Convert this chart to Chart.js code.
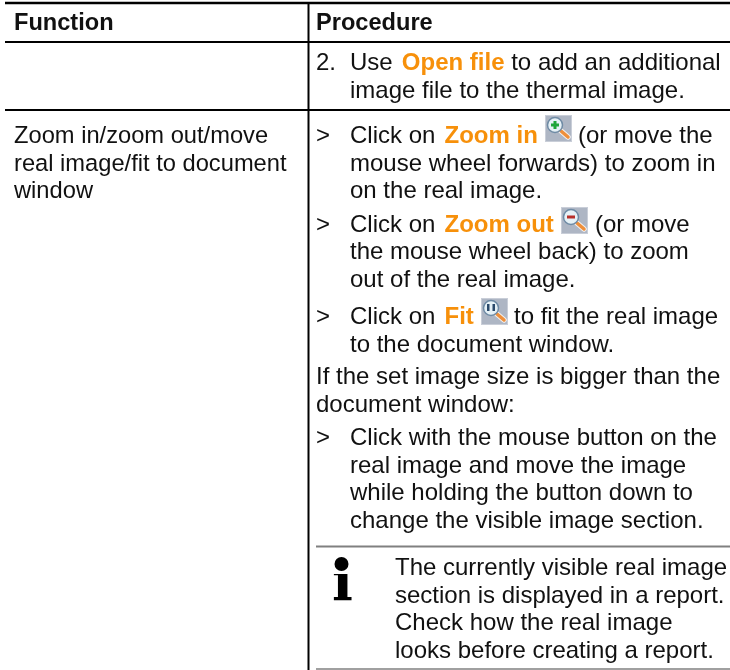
<!DOCTYPE html>
<html>
<head>
<meta charset="utf-8">
<title>Function / Procedure</title>
<script src="https://cdn.jsdelivr.net/npm/chart.js@4"></script>
<style>
  html, body { margin: 0; padding: 0; background: #fff; }
  canvas { display: block; }
</style>
</head>
<body>
<canvas id="tableChart" width="730" height="670"></canvas>
<script>
const headers = ['Function', 'Procedure'];
const functionLines = ['Zoom in/zoom out/move', 'real image/fit to document', 'window'];
const procedureLines = [
  '2.', 'Use Open file to add an additional', 'image file to the thermal image.',
  '>', 'Click on Zoom in', '(or move the', 'mouse wheel forwards) to zoom in', 'on the real image.',
  '>', 'Click on Zoom out', '(or move', 'the mouse wheel back) to zoom', 'out of the real image.',
  '>', 'Click on Fit', 'to fit the real image', 'to the document window.',
  'If the set image size is bigger than the', 'document window:',
  '>', 'Click with the mouse button on the', 'real image and move the image', 'while holding the button down to', 'change the visible image section.'
];
const noteLines = ['The currently visible real image', 'section is displayed in a report.', 'Check how the real image', 'looks before creating a report.'];
const highlights = ['Open file', 'Zoom in', 'Zoom out', 'Fit'];

// layout, in page pixels
const FONT = '"Liberation Sans", Arial, sans-serif';
const SIZE = 24;
const FUNC_SIZE = 23.7;
const HEAD_SIZE = 23.6;
const MARK_SIZE = 24;
const MARK_GAP = 2.5;
const X_FUNC = 14, X_PROC = 316, X_TEXT = 350, X_NOTE = 395;
const rules = [
  { x: [5, 730], y: [3, 3], w: 2.5, c: '#000' },
  { x: [5, 730], y: [42, 42], w: 2, c: '#000' },
  { x: [5, 730], y: [110, 110], w: 2, c: '#000' },
  { x: [308.5, 308.5], y: [3, 670], w: 2, c: '#000' },
  { x: [316, 730], y: [546.5, 546.5], w: 2, c: '#808080' },
  { x: [316, 730], y: [669, 669], w: 1.5, c: '#808080' }
];
// [x, baseline] for every entry of procedureLines
const procPos = [
  [X_PROC, 70], [X_TEXT, 70], [X_TEXT, 98],
  [X_PROC, 143], [X_TEXT, 143], [578, 143], [X_TEXT, 171], [X_TEXT, 198],
  [X_PROC, 232], [X_TEXT, 232], [595, 232], [X_TEXT, 259], [X_TEXT, 287],
  [X_PROC, 324], [X_TEXT, 324], [514, 324], [X_TEXT, 352],
  [X_PROC, 384], [X_PROC, 412],
  [X_PROC, 445], [X_TEXT, 445], [X_TEXT, 473], [X_TEXT, 500], [X_TEXT, 528]
];
const notePos = [575, 603, 630, 658];
const funcPos = [143, 171, 198];
// icon buttons, top left corner
const icons = [
  { kind: 'plus', x: 545, y: 115 },
  { kind: 'minus', x: 561, y: 207 },
  { kind: 'fit', x: 481, y: 298 }
];

function drawIcon(ctx, ic, sx, sy) {
  const x = sx(ic.x), y = sy(ic.y);
  ctx.save();
  ctx.fillStyle = '#aeb6c4';
  ctx.fillRect(x, y, 27, 27);
  ctx.strokeStyle = '#c9ced8';
  ctx.strokeRect(x + 0.5, y + 0.5, 26, 26);
  // handle
  ctx.lineCap = 'round';
  ctx.strokeStyle = '#f2f2f2';
  ctx.lineWidth = 5.5;
  ctx.beginPath();
  ctx.moveTo(x + 16, y + 16);
  ctx.lineTo(x + 23, y + 22);
  ctx.stroke();
  ctx.strokeStyle = '#ee8f3a';
  ctx.lineWidth = 3.5;
  ctx.beginPath();
  ctx.moveTo(x + 16, y + 16);
  ctx.lineTo(x + 23, y + 22);
  ctx.stroke();
  // lens
  ctx.fillStyle = '#e6f1f6';
  ctx.strokeStyle = '#6f8ba5';
  ctx.lineWidth = 1.5;
  ctx.beginPath();
  ctx.arc(x + 10, y + 10, 7.5, 0, Math.PI * 2);
  ctx.fill();
  ctx.stroke();
  if (ic.kind === 'plus') {
    ctx.fillStyle = '#1fa53a';
    ctx.fillRect(x + 6, y + 8.5, 8, 3);
    ctx.fillRect(x + 8.5, y + 6, 3, 8);
  } else if (ic.kind === 'minus') {
    ctx.fillStyle = '#b8302a';
    ctx.fillRect(x + 6, y + 8.5, 8, 3);
  } else {
    ctx.fillStyle = '#2b4a6b';
    ctx.fillRect(x + 6, y + 6, 2.5, 7);
    ctx.fillRect(x + 11.5, y + 6, 2.5, 7);
  }
  ctx.restore();
}

// writes one line of the procedure, with the highlighted words bold and orange
function drawLine(ctx, text, x, y) {
  const hit = highlights.find(h => text.includes(h));
  const parts = hit ? text.split(hit) : [text];
  let cx = x;
  parts.forEach((part, i) => {
    ctx.font = SIZE + 'px ' + FONT;
    ctx.fillStyle = '#111';
    ctx.fillText(part, cx, y);
    cx += ctx.measureText(part).width;
    if (hit && i === 0) {
      cx += MARK_GAP;
      ctx.font = 'bold ' + MARK_SIZE + 'px ' + FONT;
      ctx.fillStyle = '#f7900a';
      ctx.fillText(hit, cx, y);
      cx += ctx.measureText(hit).width;
    }
  });
}

const tableText = {
  id: 'tableText',
  afterDatasetsDraw(chart) {
    const ctx = chart.ctx;
    const sx = v => chart.scales.x.getPixelForValue(v);
    const sy = v => chart.scales.y.getPixelForValue(v);
    ctx.save();
    ctx.textBaseline = 'alphabetic';
    ctx.textAlign = 'left';

    ctx.fillStyle = '#111';
    ctx.font = 'bold ' + HEAD_SIZE + 'px ' + FONT;
    ctx.fillText(headers[0], sx(X_FUNC), sy(30));
    ctx.fillText(headers[1], sx(X_PROC), sy(30));

    ctx.font = FUNC_SIZE + 'px ' + FONT;
    functionLines.forEach((t, i) => ctx.fillText(t, sx(X_FUNC), sy(funcPos[i])));
    procedureLines.forEach((t, i) => drawLine(ctx, t, sx(procPos[i][0]), sy(procPos[i][1])));
    noteLines.forEach((t, i) => drawLine(ctx, t, sx(X_NOTE), sy(notePos[i])));

    icons.forEach(ic => drawIcon(ctx, ic, sx, sy));

    // note symbol, the reference has a rounder and larger dot than the font
    ctx.fillStyle = '#000';
    ctx.font = 'bold 55px "DejaVu Serif", serif';
    ctx.fillText('i', sx(332), sy(600));
    ctx.fillStyle = '#fff';
    ctx.fillRect(sx(332), sy(571), 20, 3);
    ctx.fillStyle = '#000';
    ctx.beginPath();
    ctx.arc(sx(341.5), sy(564), 7, 0, Math.PI * 2);
    ctx.fill();
    ctx.restore();
  }
};

new Chart(document.getElementById('tableChart'), {
  type: 'scatter',
  data: {
    datasets: rules.map(r => ({
      data: r.x.map((x, i) => ({ x: x, y: r.y[i] })),
      showLine: true,
      pointRadius: 0,
      borderColor: r.c,
      borderWidth: r.w
    }))
  },
  options: {
    responsive: false,
    animation: false,
    layout: { padding: 0 },
    plugins: { legend: { display: false }, tooltip: { enabled: false } },
    scales: {
      x: { type: 'linear', display: false, min: 0, max: 730 },
      y: { type: 'linear', display: false, min: 0, max: 670, reverse: true }
    }
  },
  plugins: [tableText]
});
</script>
</body>
</html>
